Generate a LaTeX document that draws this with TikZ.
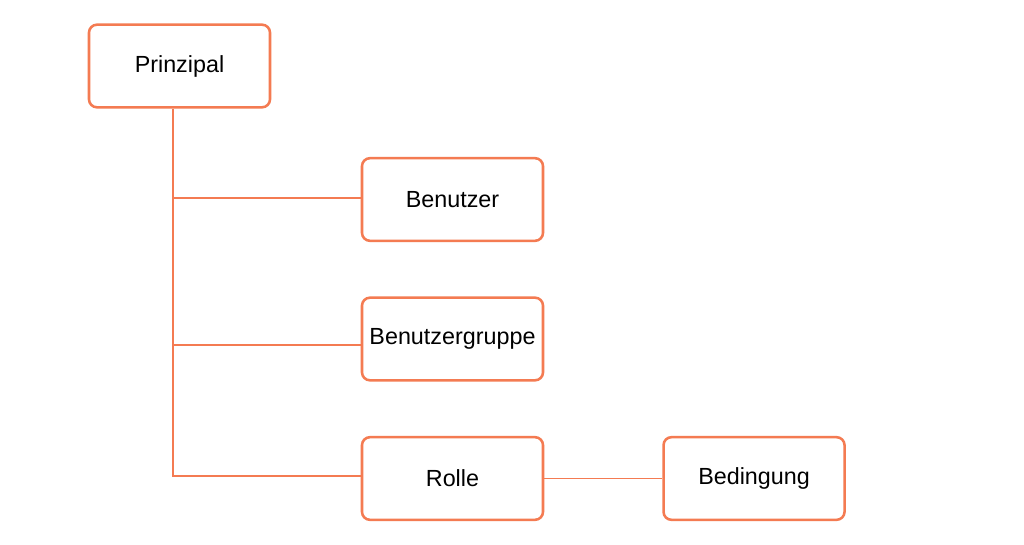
\documentclass[tikz,border=0pt]{standalone}
\usepackage{fontspec}
\setmainfont{Liberation Sans}
\usetikzlibrary{positioning}
\definecolor{boxorange}{HTML}{F47B52}
\tikzset{
  box/.style={
    draw=boxorange,
    rounded corners=6pt,
    line width=1.9pt,
    minimum width=135.75pt,
    minimum height=62pt,
    inner sep=2pt,
    align=center,
    font=\fontsize{17.5}{21}\selectfont,
    fill=white
  },
  link/.style={draw=boxorange, line width=1.1pt}
}
\begin{document}
\begin{tikzpicture}[x=0.75pt, y=-0.75pt, node distance=41pt and 88.5pt]

\useasboundingbox[fill=white] (0,0) rectangle (1024,545);

\node[box] (prinzipal) at (179.5,66) {Prinzipal};
\node[box] (benutzer) at (452.5,199.5) {Benutzer};
\node[box] (gruppe) at (452.5,339) {Benutzergruppe};
\node[box] (rolle) at (452.5,478.5) {Rolle};
\node[box, right=of rolle] (bedingung) {Bedingung};

\coordinate (stem) at ([xshift=-4.9pt]prinzipal.south);
\coordinate (bjoin) at ([yshift=1.1pt]benutzer.west);
\coordinate (gjoin) at ([yshift=-4.5pt]gruppe.west);
\coordinate (rjoin) at ([yshift=1.9pt]rolle.west);

% tree lines
\draw[link] (stem) |- (rjoin);
\draw[link] (stem |- bjoin) -- (bjoin);
\draw[link] (stem |- gjoin) -- (gjoin);
\draw[link] (rolle.east) -- (bedingung.west);

\end{tikzpicture}
\end{document}
